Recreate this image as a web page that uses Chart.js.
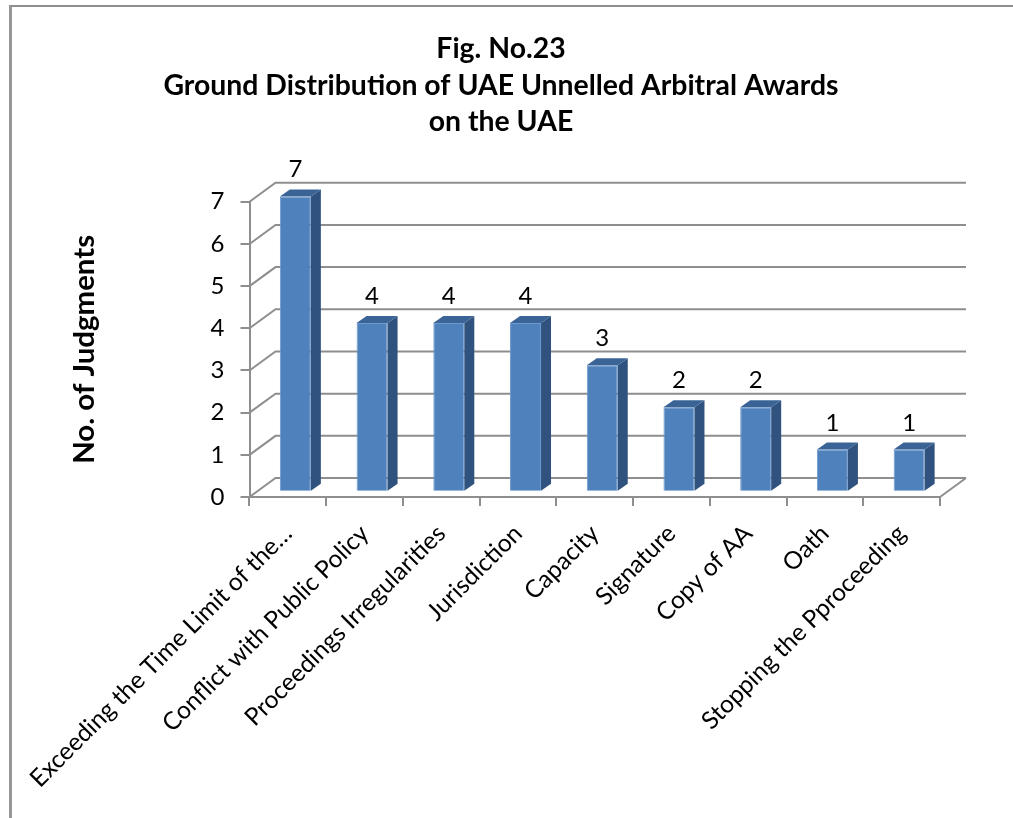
<!DOCTYPE html>
<html>
<head>
<meta charset="utf-8">
<title>Fig. No.23</title>
<script src="https://cdn.jsdelivr.net/npm/chart.js@4"></script>
<style>
html, body { margin: 0; padding: 0; background: #fff; overflow: hidden; }
#wrap { position: relative; width: 1013px; height: 818px; }
#frame { position: absolute; left: 9px; top: 5px; right: 0; bottom: 0; border-left: 3px solid #979797; border-top: 2px solid #8f8f8f; }
canvas { position: absolute; left: 0; top: 0; }
</style>
</head>
<body>
<div id="wrap">
<div id="frame"></div>
<canvas id="awardsChart" width="1013" height="818"></canvas>
</div>
<script>
const titleLines = ['Fig. No.23', 'Ground Distribution of UAE Unnelled Arbitral Awards', 'on the UAE'];
const yAxisTitle = 'No. of Judgments';
const categories = ['Exceeding the Time Limit of the…', 'Conflict with Public Policy', 'Proceedings Irregularities', 'Jurisdiction', 'Capacity', 'Signature', 'Copy of AA', 'Oath', 'Stopping the Pproceeding'];
const judgments = [7, 4, 4, 4, 3, 2, 2, 1, 1];

const fontFamily = 'Lato, sans-serif';
const axisGrey = '#8e8e8e';

// fake 3D: back wall offset, and offset/depth of the bars inside it
const wall = { dx: 26, dy: -19 };
const barShift = { dx: 7.5, dy: -5.3 };
const barDepth = { dx: 10, dy: -7 };

const wallPlugin = {
    id: 'wall3d',
    beforeDatasetsDraw(chart) {
        const { ctx, scales: { x, y } } = chart;
        ctx.save();
        ctx.strokeStyle = axisGrey;
        ctx.lineWidth = 2;
        y.ticks.forEach(t => {
            const py = y.getPixelForValue(t.value);
            ctx.beginPath();
            ctx.moveTo(x.left, py);
            ctx.lineTo(x.left + wall.dx, py + wall.dy);
            ctx.lineTo(x.right + wall.dx, py + wall.dy);
            ctx.stroke();
        });
        ctx.beginPath();
        ctx.moveTo(x.right, y.bottom);
        ctx.lineTo(x.right + wall.dx, y.bottom + wall.dy);
        ctx.stroke();
        ctx.restore();
    }
};

const bar3dPlugin = {
    id: 'bar3d',
    beforeDatasetDraw(chart) {
        const { ctx } = chart;
        ctx.save();
        ctx.translate(barShift.dx, barShift.dy);
    },
    afterDatasetDraw(chart, args) {
        const { ctx } = chart;
        args.meta.data.forEach(bar => {
            const l = bar.x - bar.width / 2, r = bar.x + bar.width / 2;
            ctx.fillStyle = '#30527e';
            ctx.beginPath();
            ctx.moveTo(r, bar.y);
            ctx.lineTo(r + barDepth.dx, bar.y + barDepth.dy);
            ctx.lineTo(r + barDepth.dx, bar.base + barDepth.dy);
            ctx.lineTo(r, bar.base);
            ctx.closePath();
            ctx.fill();
            ctx.fillStyle = '#3b6496';
            ctx.beginPath();
            ctx.moveTo(l, bar.y);
            ctx.lineTo(l + barDepth.dx, bar.y + barDepth.dy);
            ctx.lineTo(r + barDepth.dx, bar.y + barDepth.dy);
            ctx.lineTo(r, bar.y);
            ctx.closePath();
            ctx.fill();
        });
        ctx.restore();
        // value labels
        ctx.save();
        ctx.fillStyle = '#000';
        ctx.font = '24px ' + fontFamily;
        ctx.textAlign = 'center';
        ctx.textBaseline = 'alphabetic';
        args.meta.data.forEach((bar, i) => {
            ctx.fillText(judgments[i], bar.x + barShift.dx, bar.y + barShift.dy - 19);
        });
        ctx.restore();
    }
};

new Chart(document.getElementById('awardsChart').getContext('2d'), {
    type: 'bar',
    data: {
        labels: categories,
        datasets: [{
            label: yAxisTitle,
            data: judgments,
            backgroundColor: '#4f81bd',
            borderColor: '#6d9ad0',
            borderWidth: 1,
            barPercentage: 0.404,
            categoryPercentage: 1
        }]
    },
    plugins: [wallPlugin, bar3dPlugin],
    options: {
        responsive: false,
        animation: false,
        layout: { padding: { left: 62, right: 73, top: 0, bottom: 0 } },
        plugins: {
            legend: { display: false },
            tooltip: { enabled: false },
            title: {
                display: true,
                text: titleLines,
                color: '#000',
                font: { family: fontFamily, size: 28.4, weight: 'bold', lineHeight: 1.3 },
                padding: { top: 30, bottom: 61 }
            }
        },
        scales: {
            x: {
                grid: { display: true, offset: true, drawOnChartArea: false, color: axisGrey, lineWidth: 2, tickLength: 9 },
                border: { color: axisGrey, width: 2 },
                ticks: {
                    color: '#000',
                    autoSkip: false,
                    minRotation: 45,
                    maxRotation: 45,
                    padding: 13,
                    font: { family: fontFamily, size: 24.5 }
                },
                afterFit(scale) { scale.height = 321; }
            },
            y: {
                min: 0,
                max: 7,
                grid: { drawOnChartArea: false, color: axisGrey, lineWidth: 2, tickLength: 9 },
                border: { color: axisGrey, width: 2 },
                ticks: {
                    stepSize: 1,
                    color: '#000',
                    padding: 16,
                    font: { family: fontFamily, size: 24 }
                },
                title: {
                    display: true,
                    text: yAxisTitle,
                    color: '#000',
                    font: { family: fontFamily, size: 29.4, weight: 'bold' },
                    padding: { top: 5, bottom: 0 }
                },
                afterFit(scale) { scale.width = 187.5; }
            }
        }
    }
});
</script>
</body>
</html>
